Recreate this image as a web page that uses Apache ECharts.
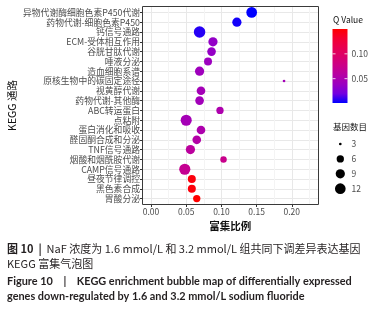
<!doctype html>
<html>
<head>
<meta charset="utf-8">
<title>KEGG bubble map</title>
<style>
    html, body { margin: 0; padding: 0; background: #fff; }
    #main { width: 386px; height: 312px; }
</style>
</head>
<body>
<div id="main"></div>
<script src="https://cdn.jsdelivr.net/npm/echarts@6.0.0/dist/echarts.min.js"></script>
<script>
    // pathways, top to bottom
    var pathways = ['异物代谢酶细胞色素P450代谢', '药物代谢-细胞色素P450', '钙信号通路', 'ECM-受体相互作用',
        '谷胱甘肽代谢', '唾液分泌', '造血细胞系谱', '原核生物中的碳固定途径', '视黄醇代谢', '药物代谢-其他酶',
        'ABC转运蛋白', '点粘附', '蛋白消化和吸收', '醛固酮合成和分泌', 'TNF信号通路', '烟酸和烟酰胺代谢',
        'CAMP信号通路', '昼夜节律调控', '黑色素合成', '胃酸分泌'];
    var richFactor = [0.143, 0.122, 0.069, 0.088, 0.086, 0.081, 0.069, 0.189, 0.071, 0.069,
        0.098, 0.050, 0.071, 0.065, 0.056, 0.103, 0.048, 0.058, 0.058, 0.065];
    var geneCount = [12, 9, 14, 9, 8, 7, 9, 3, 8, 8, 6, 13, 8, 8, 9, 5, 13, 7, 7, 6];
    var qValue = [0.001, 0.004, 0.007, 0.035, 0.036, 0.040, 0.042, 0.045, 0.045, 0.044,
        0.052, 0.046, 0.052, 0.056, 0.062, 0.074, 0.070, 0.145, 0.146, 0.150];

    var xTicks = [0, 0.05, 0.10, 0.15, 0.20];
    var qTicks = [0.05, 0.10];
    var countBreaks = [3, 6, 9, 12];

    // blue -> red, interpolated in Lab like ggplot
    var qColors = ['#0000FF', '#7300E0', '#9A00C2', '#B500A5', '#CA0089', '#DA006C', '#E80050', '#F40031', '#FF0000'];

    function bubbleSize(c) {
        return 2.7 + 2.66 * Math.sqrt(Math.max(c - 3, 0));
    }

    var qMin = Math.min.apply(null, qValue);
    var qMax = Math.max.apply(null, qValue);

    var cjk = '"Noto Sans CJK SC", "Noto Sans", sans-serif';
    var grey = '#4D4D4D';

    // panel geometry
    var panel = { left: 142.5, top: 6.5, width: 176, height: 198 };
    var step = panel.height / (pathways.length - 1 + 1.2);
    var rowTop = panel.top + 0.6 * step;
    var rowSpan = (pathways.length - 1) * step;
    var x0 = 151, ppu = 704;
    var xMaxGrid = 0.225;

    var chart = echarts.init(document.getElementById('main'));

    var data = pathways.map(function (p, i) {
        return [richFactor[i], p, geneCount[i], qValue[i]];
    });

    // legends
    var bar = { x: 332.5, y: 29, w: 15, h: 74 };
    var graphics = [];

    graphics.push({
        type: 'text', x: 12, y: panel.top + panel.height / 2, rotation: Math.PI / 2,
        style: { text: 'KEGG 通路', font: '10.5px ' + cjk, fill: '#111', textAlign: 'center', textVerticalAlign: 'middle' }
    });
    graphics.push({
        type: 'text', x: 333, y: 19.5,
        style: { text: 'Q Value', font: '8.5px ' + cjk, fill: '#111', textAlign: 'left', textVerticalAlign: 'middle' }
    });
    graphics.push({
        type: 'rect', shape: { x: bar.x, y: bar.y, width: bar.w, height: bar.h },
        style: {
            fill: new echarts.graphic.LinearGradient(0, 1, 0, 0, qColors.map(function (c, i) {
                return { offset: i / (qColors.length - 1), color: c };
            }))
        }
    });
    qTicks.forEach(function (q) {
        var y = bar.y + bar.h - (q - qMin) / (qMax - qMin) * bar.h;
        graphics.push({ type: 'line', shape: { x1: bar.x, y1: y, x2: bar.x + 3, y2: y }, style: { stroke: '#fff', lineWidth: 0.8 } });
        graphics.push({ type: 'line', shape: { x1: bar.x + bar.w - 3, y1: y, x2: bar.x + bar.w, y2: y }, style: { stroke: '#fff', lineWidth: 0.8 } });
        graphics.push({
            type: 'text', x: 351.5, y: y,
            style: { text: q.toFixed(2), font: '8.5px ' + cjk, fill: grey, textAlign: 'left', textVerticalAlign: 'middle' }
        });
    });
    graphics.push({
        type: 'text', x: 333, y: 127,
        style: { text: '基因数目', font: '8.5px ' + cjk, fill: '#111', textAlign: 'left', textVerticalAlign: 'middle' }
    });
    countBreaks.forEach(function (c, i) {
        var y = 144 + i * 14.9;
        graphics.push({ type: 'circle', shape: { cx: 340.3, cy: y, r: bubbleSize(c) / 2 }, style: { fill: '#000' } });
        graphics.push({
            type: 'text', x: 351.5, y: y,
            style: { text: String(c), font: '8.5px ' + cjk, fill: grey, textAlign: 'left', textVerticalAlign: 'middle' }
        });
    });

    // caption
    var capFont = 'Lato, "Noto Sans CJK SC", sans-serif';
    graphics.push({
        type: 'text', x: 7, y: 249.3,
        style: {
            text: '{b|图 10}  {b||}  NaF 浓度为 1.6 mmol/L 和 3.2 mmol/L 组共同下调差异表达基因',
            font: '11px ' + cjk, fill: '#231F20', textAlign: 'left', textVerticalAlign: 'middle',
            rich: { b: { fontWeight: 'bold', fontSize: 11, fontFamily: cjk, fill: '#231F20' } }
        }
    });
    graphics.push({
        type: 'text', x: 7, y: 264.3,
        style: { text: 'KEGG 富集气泡图', font: '11px ' + cjk, fill: '#231F20', textAlign: 'left', textVerticalAlign: 'middle' }
    });
    graphics.push({
        type: 'text', x: 7, y: 281.7,
        style: { text: 'Figure 10    |    KEGG enrichment bubble map of differentially expressed', font: 'bold 10.9px ' + capFont, fill: '#231F20', textAlign: 'left', textVerticalAlign: 'middle' }
    });
    graphics.push({
        type: 'text', x: 7, y: 296.7,
        style: { text: 'genes down-regulated by 1.6 and 3.2 mmol/L sodium fluoride', font: 'bold 10.9px ' + capFont, fill: '#231F20', textAlign: 'left', textVerticalAlign: 'middle' }
    });

    chart.setOption({
        animation: false,
        grid: [
            // rows: labels, ticks, horizontal lines
            { left: panel.left, top: rowTop, width: panel.width, height: rowSpan },
            // vertical grid lines + x title
            { left: x0, top: panel.top, width: xMaxGrid * ppu, height: panel.height },
            // data + x labels
            { left: x0, top: rowTop, width: xTicks[xTicks.length - 1] * ppu, height: rowSpan },
            // panel border
            { left: panel.left, top: panel.top, width: panel.width, height: panel.height, show: true, borderColor: '#3a3a3a', borderWidth: 1, z: 5 }
        ],
        xAxis: [
            { gridIndex: 0, type: 'value', show: false },
            {
                gridIndex: 1, type: 'value', min: 0, max: xMaxGrid, interval: 0.025,
                axisLine: { show: false }, axisTick: { show: false }, axisLabel: { show: false },
                splitLine: { show: true, lineStyle: { color: ['#E8E8E8', '#F4F4F4'], width: 1 } },
                name: '富集比例', nameLocation: 'middle', nameGap: 16,
                nameTextStyle: { fontFamily: cjk, fontSize: 10.5, fontWeight: 'bold', color: '#111' }
            },
            {
                gridIndex: 2, type: 'value', min: 0, max: xTicks[xTicks.length - 1], interval: 0.05,
                offset: panel.top + panel.height - rowTop - rowSpan,
                axisLine: { show: false },
                axisTick: { show: true, length: 2.5, lineStyle: { color: '#333', width: 1 } },
                axisLabel: { fontFamily: cjk, fontSize: 8.5, color: grey, margin: 3, formatter: function (v) { return v.toFixed(2); } },
                splitLine: { show: false }
            },
            { gridIndex: 3, type: 'value', show: false }
        ],
        yAxis: [
            {
                gridIndex: 0, type: 'category', data: pathways, inverse: true, boundaryGap: false,
                axisLine: { show: false },
                axisTick: { show: true, length: 2.5, lineStyle: { color: '#333', width: 1 } },
                axisLabel: { fontFamily: cjk, fontSize: 8.8, color: grey, margin: 2.5, interval: 0 },
                splitLine: { show: true, lineStyle: { color: '#E8E8E8', width: 1 } }
            },
            { gridIndex: 1, type: 'value', show: false },
            { gridIndex: 2, type: 'category', data: pathways, inverse: true, boundaryGap: false, show: false },
            { gridIndex: 3, type: 'value', show: false }
        ],
        visualMap: [{
            type: 'continuous', show: false, dimension: 3, min: qMin, max: qMax, seriesIndex: 0,
            inRange: { color: qColors }
        }],
        series: [{
            type: 'scatter', xAxisIndex: 2, yAxisIndex: 2, data: data, z: 3,
            symbolSize: function (v) { return bubbleSize(v[2]); },
            itemStyle: { opacity: 1 },
            emphasis: { disabled: true }
        }],
        graphic: graphics
    });
</script>
</body>
</html>
